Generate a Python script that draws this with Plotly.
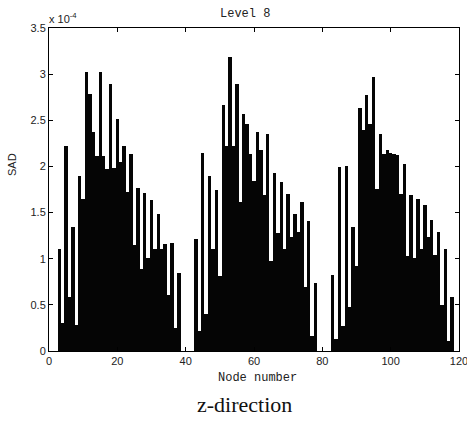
import plotly.graph_objects as go

# Node numbers and SAD values (in units of 1e-4)
nodes = list(range(1, 121))

group1 = [1.11, 0.30, 2.22, 0.58, 1.34, 0.28, 1.90, 1.65, 3.02, 2.79,
          2.37, 2.11, 3.02, 2.11, 1.97, 2.89, 1.98, 2.51, 2.05, 2.22,
          1.72, 2.14, 1.15, 1.77, 0.89, 1.71, 1.01, 1.64, 1.10, 1.48,
          1.10, 1.16, 0.61, 1.17, 0.25, 0.84]          # nodes 3..38
group2 = [1.21, 0.22, 2.15, 0.40, 1.90, 1.11, 1.75, 0.81, 2.67, 2.22,
          3.19, 2.22, 2.89, 1.61, 2.57, 2.46, 2.14, 1.84, 2.37, 2.18,
          1.69, 2.35, 0.97, 1.93, 1.28, 1.83, 1.10, 1.70, 1.23, 1.48,
          1.29, 1.61, 0.69, 1.41, 0.16, 0.74]          # nodes 43..78
group3 = [0.82, 0.13, 1.99, 0.27, 2.01, 0.48, 1.34, 0.92, 2.63, 2.39,
          2.77, 2.46, 2.97, 1.76, 2.35, 2.14, 2.18, 2.15, 2.14, 2.12,
          1.70, 2.03, 1.03, 1.69, 1.01, 1.65, 1.10, 1.58, 1.23, 1.42,
          1.04, 1.29, 0.50, 1.10, 0.11, 0.58]          # nodes 83..118

sad_e4 = ([0, 0] + group1 + [0, 0, 0, 0] + group2 + [0, 0, 0, 0] + group3 + [0, 0])

x_ticks = [0, 20, 40, 60, 80, 100, 120]
y_ticks = [0, 0.5, 1, 1.5, 2, 2.5, 3, 3.5]
y_tick_text = ["0", "0.5", "1", "1.5", "2", "2.5", "3", "3.5"]

fig = go.Figure()
fig.add_trace(go.Bar(x=nodes, y=sad_e4, width=1,
                     marker=dict(color="#050505", line=dict(width=0))))

L, R, T, B = 49, 8, 28, 72
W, H = 467, 423
pw, ph = W - L - R, H - T - B

def px(xp):
    return (xp - L) / pw

def py(yp):
    return (H - B - yp) / ph

axis_common = dict(showline=True, linecolor="#000000", linewidth=1, mirror="ticks",
                   ticks="inside", ticklen=4, tickcolor="#000000", showgrid=False,
                   zeroline=False, automargin=False, ticklabeloverflow="allow",
                   tickfont=dict(family="Liberation Sans, Arial", size=11, color="#222222"))

fig.update_layout(
    width=W, height=H,
    margin=dict(l=L, r=R, t=T, b=B),
    paper_bgcolor="white", plot_bgcolor="white",
    showlegend=False, bargap=0,
    xaxis=dict(range=[0, 120], tickvals=x_ticks, **axis_common),
    yaxis=dict(range=[0, 3.5], tickvals=y_ticks, ticktext=y_tick_text, **axis_common),
    annotations=[
        dict(text="Level 8", x=px(245), y=py(14), xref="paper", yref="paper",
             showarrow=False, xanchor="center", yanchor="middle",
             font=dict(family="Liberation Mono, Courier New", size=12, color="#222222")),
        dict(text="x 10<sup>-4</sup>", x=px(47), y=py(18), xref="paper", yref="paper",
             showarrow=False, xanchor="left", yanchor="middle",
             font=dict(family="Liberation Sans, Arial", size=11, color="#222222")),
        dict(text="Node number", x=px(257), y=py(378), xref="paper", yref="paper",
             showarrow=False, xanchor="center", yanchor="middle",
             font=dict(family="Liberation Mono, Courier New", size=12, color="#222222")),
        dict(text="SAD", x=px(12), y=py(165), xref="paper", yref="paper",
             showarrow=False, xanchor="center", yanchor="middle", textangle=-90,
             font=dict(family="Liberation Sans, Arial", size=11, color="#222222")),
        dict(text="z-direction", x=px(244), y=py(404), xref="paper", yref="paper",
             showarrow=False, xanchor="center", yanchor="middle",
             font=dict(family="Liberation Serif, Times New Roman", size=22, color="#111111")),
    ],
)

fig.write_html("out.html",
               config={"displayModeBar": False, "staticPlot": True},
               post_script="document.body.style.margin='0';document.body.style.overflow='hidden';")
